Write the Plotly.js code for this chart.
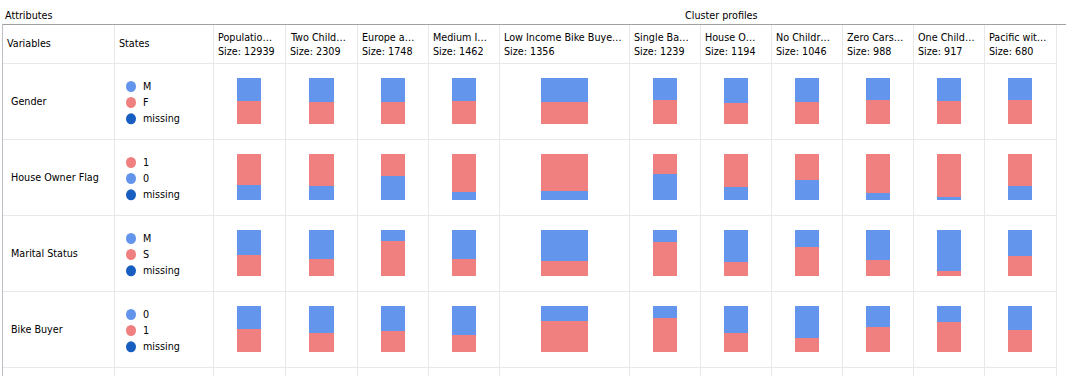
<!DOCTYPE html>
<html>
<head>
<meta charset="utf-8">
<script src="https://cdn.plot.ly/plotly-3.0.1.min.js"></script>
<style>html,body{margin:0;padding:0;background:#fff;}#chart{width:1066px;height:376px;}</style>
</head>
<body>
<div id="chart"></div>
<script>
// ---------------- DATA ----------------
const clusterNames = ["Populatio\u2026","Two Child\u2026","Europe a\u2026","Medium I\u2026","Low Income Bike Buye\u2026","Single Ba\u2026","House O\u2026","No Childr\u2026","Zero Cars\u2026","One Child\u2026","Pacific wit\u2026"];
const clusterSizes = [12939, 2309, 1748, 1462, 1356, 1239, 1194, 1046, 988, 917, 680];
const variables = ["Gender", "House Owner Flag", "Marital Status", "Bike Buyer"];
const genderStates = ["M", "F", "missing"];
const houseOwnerStates = ["1", "0", "missing"];
const maritalStates = ["M", "S", "missing"];
const bikeBuyerStates = ["0", "1", "missing"];
// percentages per cluster (first state = top of bar)
const gender_M = [50, 52, 52, 50, 52, 48, 54, 52, 48, 50, 48];
const gender_F = [50, 48, 48, 50, 48, 52, 46, 48, 52, 50, 52];
const houseOwner_1 = [67, 70, 48, 83, 80, 43, 72, 56, 85, 93, 70];
const houseOwner_0 = [33, 30, 52, 17, 20, 57, 28, 44, 15, 7, 30];
const marital_M = [54, 63, 24, 63, 67, 26, 70, 37, 65, 89, 57];
const marital_S = [46, 37, 76, 37, 33, 74, 30, 63, 35, 11, 43];
const bike_0 = [50, 59, 54, 63, 33, 26, 59, 70, 46, 35, 52];
const bike_1 = [50, 41, 46, 37, 67, 74, 41, 30, 54, 65, 48];

// ---------------- LAYOUT CONFIG ----------------
const W = 1066, H = 376;
const BLUE = "#6495ED", RED = "#F08080", MISSING = "#175EC0";
const FONT = "DejaVu Sans Condensed, Liberation Sans, sans-serif";
const FS = 10.7;
const TX = -2; // annotation text box inner offset correction
const colEdges = [3, 114, 213, 285, 357, 428, 499, 629, 700, 771, 842, 913, 984, 1056]; // first two = Variables, States
const barPx = [24, 25, 24, 24, 47, 24, 24, 24, 24, 24, 24];
const rowEdges = [63, 139, 215, 291, 367];
const headerTop = 24;
const barPad = 15; // px above/below bar inside row

const rowsData = [
  {states: genderStates, colors: [BLUE, RED, MISSING], top: gender_M, bottom: gender_F},
  {states: houseOwnerStates, colors: [RED, BLUE, MISSING], top: houseOwner_1, bottom: houseOwner_0},
  {states: maritalStates, colors: [BLUE, RED, MISSING], top: marital_M, bottom: marital_S},
  {states: bikeBuyerStates, colors: [BLUE, RED, MISSING], top: bike_0, bottom: bike_1}
];

const clusterCenters = clusterNames.map((_, i) => (colEdges[i + 2] + colEdges[i + 3]) / 2);

const traces = [];
const layout = {
  width: W, height: H,
  margin: {l: 0, r: 0, t: 0, b: 0},
  paper_bgcolor: "#fff", plot_bgcolor: "rgba(0,0,0,0)",
  showlegend: false,
  barmode: "stack",
  xaxis: {range: [0, W], domain: [0, 1], visible: false, fixedrange: true, anchor: "y"},
  yaxis: {range: [H, 0], domain: [0, 1], visible: false, fixedrange: true, anchor: "x"},
  shapes: [], annotations: []
};

const txt = (x, y, s) => ({xref: "x", yref: "y", x: x + TX, y: y, text: s, showarrow: false,
  xanchor: "left", yanchor: "middle", font: {family: FONT, size: FS, color: "#000"}});

rowsData.forEach((row, r) => {
  const t = rowEdges[r], b = rowEdges[r + 1];
  const barH = (b - t) - 2 * barPad;
  const padU = barPad / barH * 100;
  const ax = "yaxis" + (r + 2);
  layout[ax] = {domain: [1 - b / H, 1 - t / H], range: [-padU, 100 + padU], visible: false, fixedrange: true, anchor: "x"};
  const yref = "y" + (r + 2);
  traces.push({type: "bar", x: clusterCenters, y: row.bottom, width: barPx, yaxis: yref, xaxis: "x",
    marker: {color: row.colors[1], line: {width: 0}}, hoverinfo: "skip"});
  traces.push({type: "bar", x: clusterCenters, y: row.top, width: barPx, yaxis: yref, xaxis: "x",
    marker: {color: row.colors[0], line: {width: 0}}, hoverinfo: "skip"});

  const cy = (t + b) / 2;
  layout.annotations.push(txt(10.5, cy + 0.5, variables[r]));
  const offs = [-14.5, 1.5, 17.8];
  row.states.forEach((s, k) => {
    const sy = cy + offs[k];
    layout.shapes.push({type: "circle", xref: "x", yref: "y", x0: 126, x1: 136, y0: sy - 5.5, y1: sy + 5.5,
      fillcolor: row.colors[k], line: {width: 0}, layer: "above"});
    layout.annotations.push(txt(143, sy, s));
  });
});

// grid lines
const GRID = "#E8E8E8";
colEdges.slice(1).forEach(x => {
  layout.shapes.push({type: "line", xref: "x", yref: "y", x0: x + 0.5, x1: x + 0.5, y0: headerTop, y1: H,
    line: {color: GRID, width: 1}, layer: "below"});
});
rowEdges.forEach(y => {
  layout.shapes.push({type: "line", xref: "x", yref: "y", x0: 3, x1: 1056, y0: y + 0.5, y1: y + 0.5,
    line: {color: GRID, width: 1}, layer: "below"});
});
layout.shapes.push({type: "line", xref: "x", yref: "y", x0: 2, x1: W, y0: headerTop + 0.5, y1: headerTop + 0.5,
  line: {color: "#A0A0A0", width: 1}, layer: "below"});
layout.shapes.push({type: "line", xref: "x", yref: "y", x0: 2.5, x1: 2.5, y0: headerTop, y1: H,
  line: {color: "#BDBDC6", width: 1}, layer: "below"});

// header texts
layout.annotations.push(txt(5, 15, "Attributes"));
layout.annotations.push(txt(685, 15, "Cluster profiles"));
layout.annotations.push(txt(7, 43.5, "Variables"));
layout.annotations.push(txt(119, 43.5, "States"));
clusterNames.forEach((n, i) => {
  const x0 = colEdges[i + 2] + 5;
  layout.annotations.push(txt(x0, 37.5, n));
  layout.annotations.push(txt(x0, 51, "Size: " + clusterSizes[i]));
});

Plotly.newPlot("chart", traces, layout, {displayModeBar: false, staticPlot: true});
</script>
</body>
</html>
